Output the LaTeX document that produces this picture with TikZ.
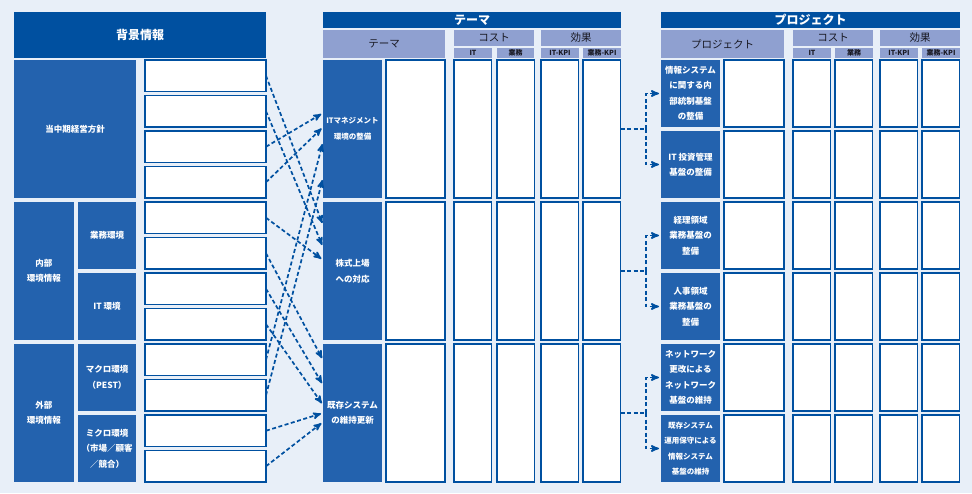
\documentclass[tikz,border=0pt]{standalone}
\usepackage{fontspec}
\setmainfont{Noto Sans CJK JP}
\usepackage{tikz}
\usetikzlibrary{arrows}

\definecolor{bgblue}{RGB}{232,239,248}
\definecolor{darkblue}{RGB}{0,80,160}
\definecolor{midblue}{RGB}{35,98,174}
\definecolor{lavender}{RGB}{143,160,208}
\definecolor{headtext}{RGB}{25,25,35}

\begin{document}
\begin{tikzpicture}[x=1pt,y=-1pt,>=stealth']

    \tikzstyle{every node}=[inner sep=0pt, outer sep=0pt, anchor=north west, align=center]
    \tikzstyle{headbar}=[fill=darkblue, text=white, font=\bfseries\fontsize{12}{14}\selectfont]
    \tikzstyle{subbar}=[fill=lavender, text=headtext, font=\fontsize{10.5}{12}\selectfont]
    \tikzstyle{colbar}=[fill=lavender, text=headtext, font=\bfseries\fontsize{7}{8}\selectfont]
    \tikzstyle{bluebox}=[fill=midblue, text=white, font=\bfseries\fontsize{8.5}{15.5}\selectfont]
    \tikzstyle{cell}=[draw=darkblue, fill=white, line width=1.1pt]
    \tikzstyle{link}=[->, darkblue, line width=1.7pt, dash pattern=on 4pt off 2.5pt, shorten >=2pt]

    \fill[bgblue] (0,0) rectangle (972,493);

    % background info
    \node[headbar, minimum width=252pt, minimum height=46pt] (bg) at (14,12) {背景情報};
    \node[bluebox, minimum width=122pt, minimum height=138pt] (plan) at (14,60) {当中期経営方針};
    \node[bluebox, minimum width=60pt, minimum height=138pt] (inner) at (14,202) {内部\\環境情報};
    \node[bluebox, minimum width=58pt, minimum height=67pt] (work) at (78,202) {業務環境};
    \node[bluebox, minimum width=58pt, minimum height=67pt] (itenv) at (78,273) {IT 環境};
    \node[bluebox, minimum width=60pt, minimum height=138pt] (outer) at (14,344) {外部\\環境情報};
    \node[bluebox, minimum width=58pt, minimum height=67pt] (macro) at (78,344) {マクロ環境\\（PEST）};
    \node[bluebox, minimum width=58pt, minimum height=67pt] (micro) at (78,415) {ミクロ環境\\（市場／顧客\\／競合）};

    \foreach \i in {1,...,12}
        \node[cell, minimum width=121pt, minimum height=31.5pt] (b\i) at (145,{60+35.5*(\i-1)}) {};

    % themes
    \node[headbar, minimum width=298pt, minimum height=16pt] (themehead) at (323,12) {テーマ};
    \node[subbar, minimum width=122pt, minimum height=28pt] (themesub) at (323,30) {テーマ};
    \node[subbar, minimum width=80pt, minimum height=16pt] (tcost) at (454,30) {コスト};
    \node[subbar, minimum width=80pt, minimum height=16pt] (teff) at (541,30) {効果};
    \node[colbar, minimum width=38pt, minimum height=10pt] (tcit) at (454,48) {IT};
    \node[colbar, minimum width=37pt, minimum height=10pt] (tcwk) at (497,48) {業務};
    \node[colbar, minimum width=38pt, minimum height=10pt] (tekit) at (541,48) {IT-KPI};
    \node[colbar, minimum width=38pt, minimum height=10pt] (tekwk) at (583,48) {業務-KPI};

    \node[bluebox, minimum width=59pt, minimum height=138pt, font=\bfseries\fontsize{7.5}{15.5}\selectfont] (t1) at (323,60) {ITマネジメント\\環境の整備};
    \node[bluebox, minimum width=59pt, minimum height=138pt] (t2) at (323,202) {株式上場\\への対応};
    \node[bluebox, minimum width=59pt, minimum height=138pt] (t3) at (323,344) {既存システム\\の維持更新};

    \foreach \r in {1,2,3} {
        \pgfmathsetmacro\ty{60+142*(\r-1)}
        \node[cell, minimum width=59pt, minimum height=138pt] (tw\r) at (386,\ty) {};
        \foreach \c/\x in {a/454, b/497, c/541, d/583}
            \node[cell, minimum width=37.5pt, minimum height=138pt] (tc\r-\c) at (\x,\ty) {};
    }

    % projects
    \node[headbar, minimum width=299pt, minimum height=16pt] (projhead) at (661,12) {プロジェクト};
    \node[subbar, minimum width=123pt, minimum height=28pt] (projsub) at (661,30) {プロジェクト};
    \node[subbar, minimum width=80pt, minimum height=16pt] (pcost) at (793,30) {コスト};
    \node[subbar, minimum width=80pt, minimum height=16pt] (peff) at (880,30) {効果};
    \node[colbar, minimum width=38pt, minimum height=10pt] (pcit) at (793,48) {IT};
    \node[colbar, minimum width=38pt, minimum height=10pt] (pcwk) at (835,48) {業務};
    \node[colbar, minimum width=38pt, minimum height=10pt] (pekit) at (880,48) {IT-KPI};
    \node[colbar, minimum width=38pt, minimum height=10pt] (pekwk) at (922,48) {業務-KPI};

    \node[bluebox, minimum width=59pt, minimum height=67pt] (p1) at (661,60) {情報システム\\に関する内\\部統制基盤\\の整備};
    \node[bluebox, minimum width=59pt, minimum height=67pt] (p2) at (661,131) {IT 投資管理\\基盤の整備};
    \node[bluebox, minimum width=59pt, minimum height=67pt] (p3) at (661,202) {経理領域\\業務基盤の\\整備};
    \node[bluebox, minimum width=59pt, minimum height=67pt] (p4) at (661,273) {人事領域\\業務基盤の\\整備};
    \node[bluebox, minimum width=59pt, minimum height=67pt] (p5) at (661,344) {ネットワーク\\更改による\\ネットワーク\\基盤の維持};
    \node[bluebox, minimum width=59pt, minimum height=67pt, font=\bfseries\fontsize{7.5}{15.5}\selectfont] (p6) at (661,415) {既存システム\\運用保守による\\情報システム\\基盤の維持};

    \foreach \r in {1,...,6} {
        \pgfmathsetmacro\py{60+71*(\r-1)}
        \node[cell, minimum width=60pt, minimum height=67pt] (pw\r) at (724,\py) {};
        \foreach \c/\x in {a/793, b/835, c/880, d/922}
            \node[cell, minimum width=37.5pt, minimum height=67pt] (pc\r-\c) at (\x,\py) {};
    }

    % background -> theme
    \foreach \s/\t/\d in {1/2/23, 2/2/45, 3/1/53, 4/1/67, 5/2/58, 6/3/16,
                          7/3/41, 8/3/61, 9/1/82, 10/1/118, 11/3/69, 12/3/78}
        \draw[link] (b\s.east) -- ([yshift=-\d pt]t\t.north west);

    % theme -> project
    \foreach \r/\a/\b in {1/1/2, 2/3/4, 3/5/6} {
        \coordinate (j\r) at ([xshift=25.5pt]tc\r-d.east);
        \draw[link] (tc\r-d.east) -- (j\r) |- (p\a.west);
        \draw[link] (j\r) |- (p\b.west);
    }

\end{tikzpicture}
\end{document}
